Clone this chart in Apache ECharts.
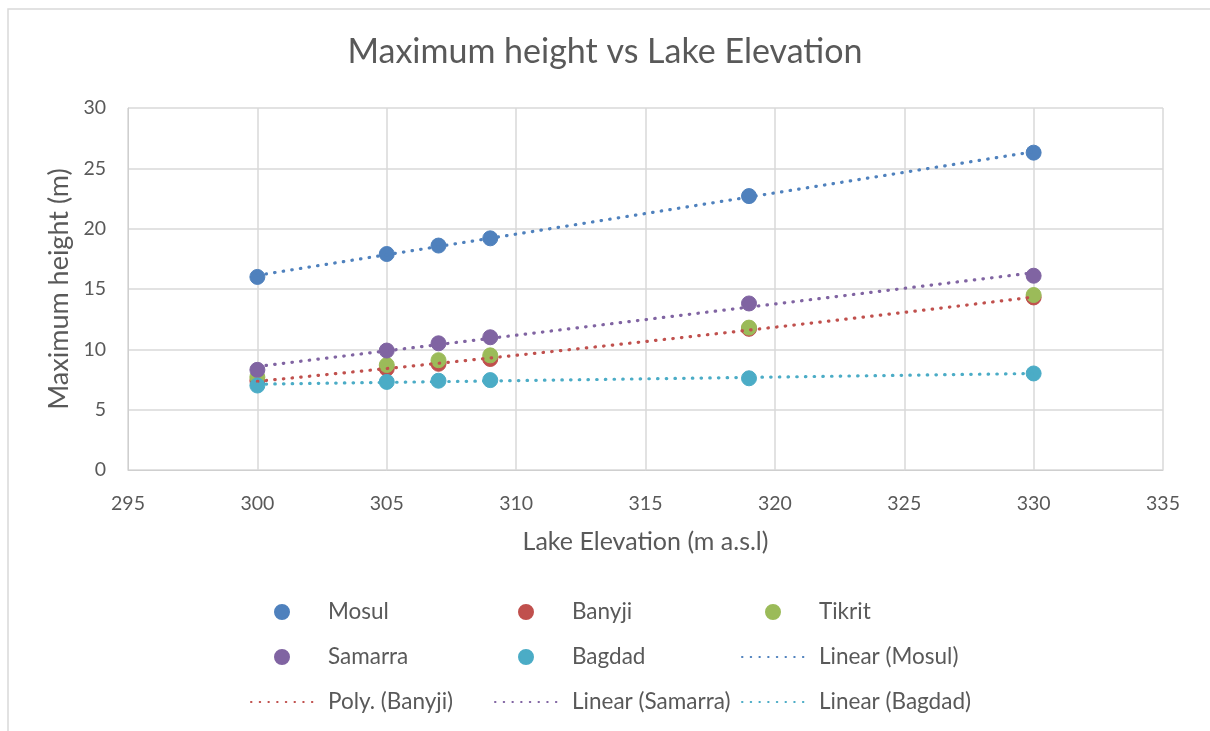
<!DOCTYPE html>
<html>
<head>
<meta charset="utf-8">
<title>Maximum height vs Lake Elevation</title>
<script src="https://cdn.jsdelivr.net/npm/echarts@6/dist/echarts.min.js"></script>
<style>
  html, body { margin: 0; padding: 0; background: #ffffff; }
  #chart { width: 1210px; height: 731px; }
</style>
</head>
<body>
<div id="chart"></div>
<script>
// Lake elevation (m a.s.l) shared by every station
const elevations = [300, 305, 307, 309, 319, 330];

// Maximum height (m) per station
const mosul   = [16.0, 17.9, 18.6, 19.2, 22.7, 26.3];
const banyji  = [7.4, 8.4, 8.8, 9.2, 11.7, 14.3];
const tikrit  = [7.7, 8.7, 9.1, 9.5, 11.8, 14.5];
const samarra = [8.3, 9.9, 10.5, 11.0, 13.8, 16.1];
const bagdad  = [7.0, 7.3, 7.4, 7.45, 7.6, 8.0];

const stationNames = ['Mosul', 'Banyji', 'Tikrit', 'Samarra', 'Bagdad'];
const trendNames = ['Linear (Mosul)', 'Poly. (Banyji)', 'Linear (Samarra)', 'Linear (Bagdad)'];

// Legend columns, read top to bottom
const legendColumns = [
  ['Mosul', 'Samarra', 'Poly. (Banyji)'],
  ['Banyji', 'Bagdad', 'Linear (Samarra)'],
  ['Tikrit', 'Linear (Mosul)', 'Linear (Bagdad)']
];

const xTicks = { min: 295, max: 335, step: 5 };
const yTicks = { min: 0, max: 30, step: 5 };

const colors = {
  Mosul: '#4f81bd',
  Banyji: '#c0504d',
  Tikrit: '#9bbb59',
  Samarra: '#8064a2',
  Bagdad: '#4bacc6'
};

const TEXT = '#595959';
const GRID = '#d9d9d9';
const FONT = 'Lato, "Open Sans", sans-serif';

function pairs(xs, ys) {
  return xs.map((x, i) => [x, ys[i]]);
}

// Least-squares polynomial fit of given order; returns a function of x.
function polyFit(xs, ys, order) {
  const c = xs.reduce((s, v) => s + v, 0) / xs.length;
  const n = order + 1;
  const A = [];
  for (let r = 0; r < n; r++) {
    A.push(new Array(n + 1).fill(0));
  }
  xs.forEach((x0, i) => {
    const x = x0 - c;
    for (let r = 0; r < n; r++) {
      for (let k = 0; k < n; k++) A[r][k] += Math.pow(x, r + k);
      A[r][n] += ys[i] * Math.pow(x, r);
    }
  });
  // Gauss-Jordan elimination
  for (let p = 0; p < n; p++) {
    let best = p;
    for (let r = p + 1; r < n; r++) if (Math.abs(A[r][p]) > Math.abs(A[best][p])) best = r;
    [A[p], A[best]] = [A[best], A[p]];
    for (let r = 0; r < n; r++) {
      if (r === p) continue;
      const f = A[r][p] / A[p][p];
      for (let k = p; k <= n; k++) A[r][k] -= f * A[p][k];
    }
  }
  const coef = A.map((row, i) => row[n] / row[i]);
  return x => coef.reduce((s, a, i) => s + a * Math.pow(x - c, i), 0);
}

// Sample a fitted curve across the data's elevation range
function trendPoints(xs, ys, order) {
  const f = polyFit(xs, ys, order);
  const lo = Math.min(...xs), hi = Math.max(...xs);
  const steps = order === 1 ? 1 : 60;
  const pts = [];
  for (let i = 0; i <= steps; i++) {
    const x = lo + (hi - lo) * i / steps;
    pts.push([x, f(x)]);
  }
  return pts;
}

const stationValues = { Mosul: mosul, Banyji: banyji, Tikrit: tikrit, Samarra: samarra, Bagdad: bagdad };

const scatterSeries = stationNames.map(name => ({
  name: name,
  type: 'scatter',
  symbol: 'circle',
  symbolSize: 15,
  data: pairs(elevations, stationValues[name]),
  itemStyle: { color: colors[name], borderColor: colors[name], borderWidth: 1, opacity: 1 },
  emphasis: { disabled: true },
  z: 3
}));

const trendDefs = [
  { name: trendNames[0], station: 'Mosul', order: 1 },
  { name: trendNames[1], station: 'Banyji', order: 2 },
  { name: trendNames[2], station: 'Samarra', order: 1 },
  { name: trendNames[3], station: 'Bagdad', order: 1 }
];

const lineSeries = trendDefs.map(t => ({
  name: t.name,
  type: 'line',
  symbol: 'none',
  symbolSize: 0,
  showSymbol: false,
  smooth: false,
  data: trendPoints(elevations, stationValues[t.station], t.order),
  itemStyle: { color: colors[t.station] },
  lineStyle: { color: colors[t.station], width: 3.2, type: [0.5, 8.2], cap: 'round' },
  emphasis: { disabled: true },
  z: 4
}));

const legendLefts = [245, 489, 736];

const legends = legendColumns.map((col, i) => ({
  orient: 'vertical',
  left: legendLefts[i],
  top: 592,
  itemWidth: 62,
  itemHeight: 14,
  itemGap: 15,
  selectedMode: false,
  data: col.map(name => trendNames.includes(name)
    ? { name: name, itemStyle: { opacity: 0 } }
    : { name: name }),
  textStyle: {
    fontFamily: FONT,
    fontSize: 22.5,
    color: TEXT,
    lineHeight: 30,
    padding: [0, 0, 0, 10]
  }
}));

const chart = echarts.init(document.getElementById('chart'), null, { renderer: 'canvas' });

chart.setOption({
  backgroundColor: '#ffffff',
  animation: false,
  textStyle: { fontFamily: FONT },
  graphic: [{
    type: 'rect',
    silent: true,
    shape: { x: 8, y: 9, width: 1230, height: 760 },
    style: { fill: 'none', stroke: GRID, lineWidth: 1.5 }
  }],
  title: {
    text: 'Maximum height vs Lake Elevation',
    left: 'center',
    top: 30,
    textStyle: { fontFamily: FONT, fontSize: 34, fontWeight: 'normal', color: TEXT }
  },
  grid: { left: 128, right: 47, top: 108, bottom: 261, containLabel: false },
  xAxis: {
    type: 'value',
    min: xTicks.min,
    max: xTicks.max,
    interval: xTicks.step,
    name: 'Lake Elevation (m a.s.l)',
    nameLocation: 'middle',
    nameGap: 59,
    nameTextStyle: { fontFamily: FONT, fontSize: 25, color: TEXT },
    axisLine: { show: true, lineStyle: { color: '#cfcfcf', width: 1 } },
    axisTick: { show: false },
    axisLabel: { fontFamily: FONT, fontSize: 19.5, color: TEXT, margin: 24 },
    splitLine: { show: true, lineStyle: { color: GRID, width: 1.5 } }
  },
  yAxis: {
    type: 'value',
    min: yTicks.min,
    max: yTicks.max,
    interval: yTicks.step,
    name: 'Maximum height (m)',
    nameLocation: 'middle',
    nameGap: 53,
    nameTextStyle: { fontFamily: FONT, fontSize: 27, color: TEXT },
    axisLine: { show: true, lineStyle: { color: '#cfcfcf', width: 1 } },
    axisTick: { show: false },
    axisLabel: { fontFamily: FONT, fontSize: 19.5, color: TEXT, margin: 22 },
    splitLine: { show: true, lineStyle: { color: GRID, width: 1.5 } }
  },
  legend: legends,
  series: scatterSeries.concat(lineSeries)
});
</script>
</body>
</html>
